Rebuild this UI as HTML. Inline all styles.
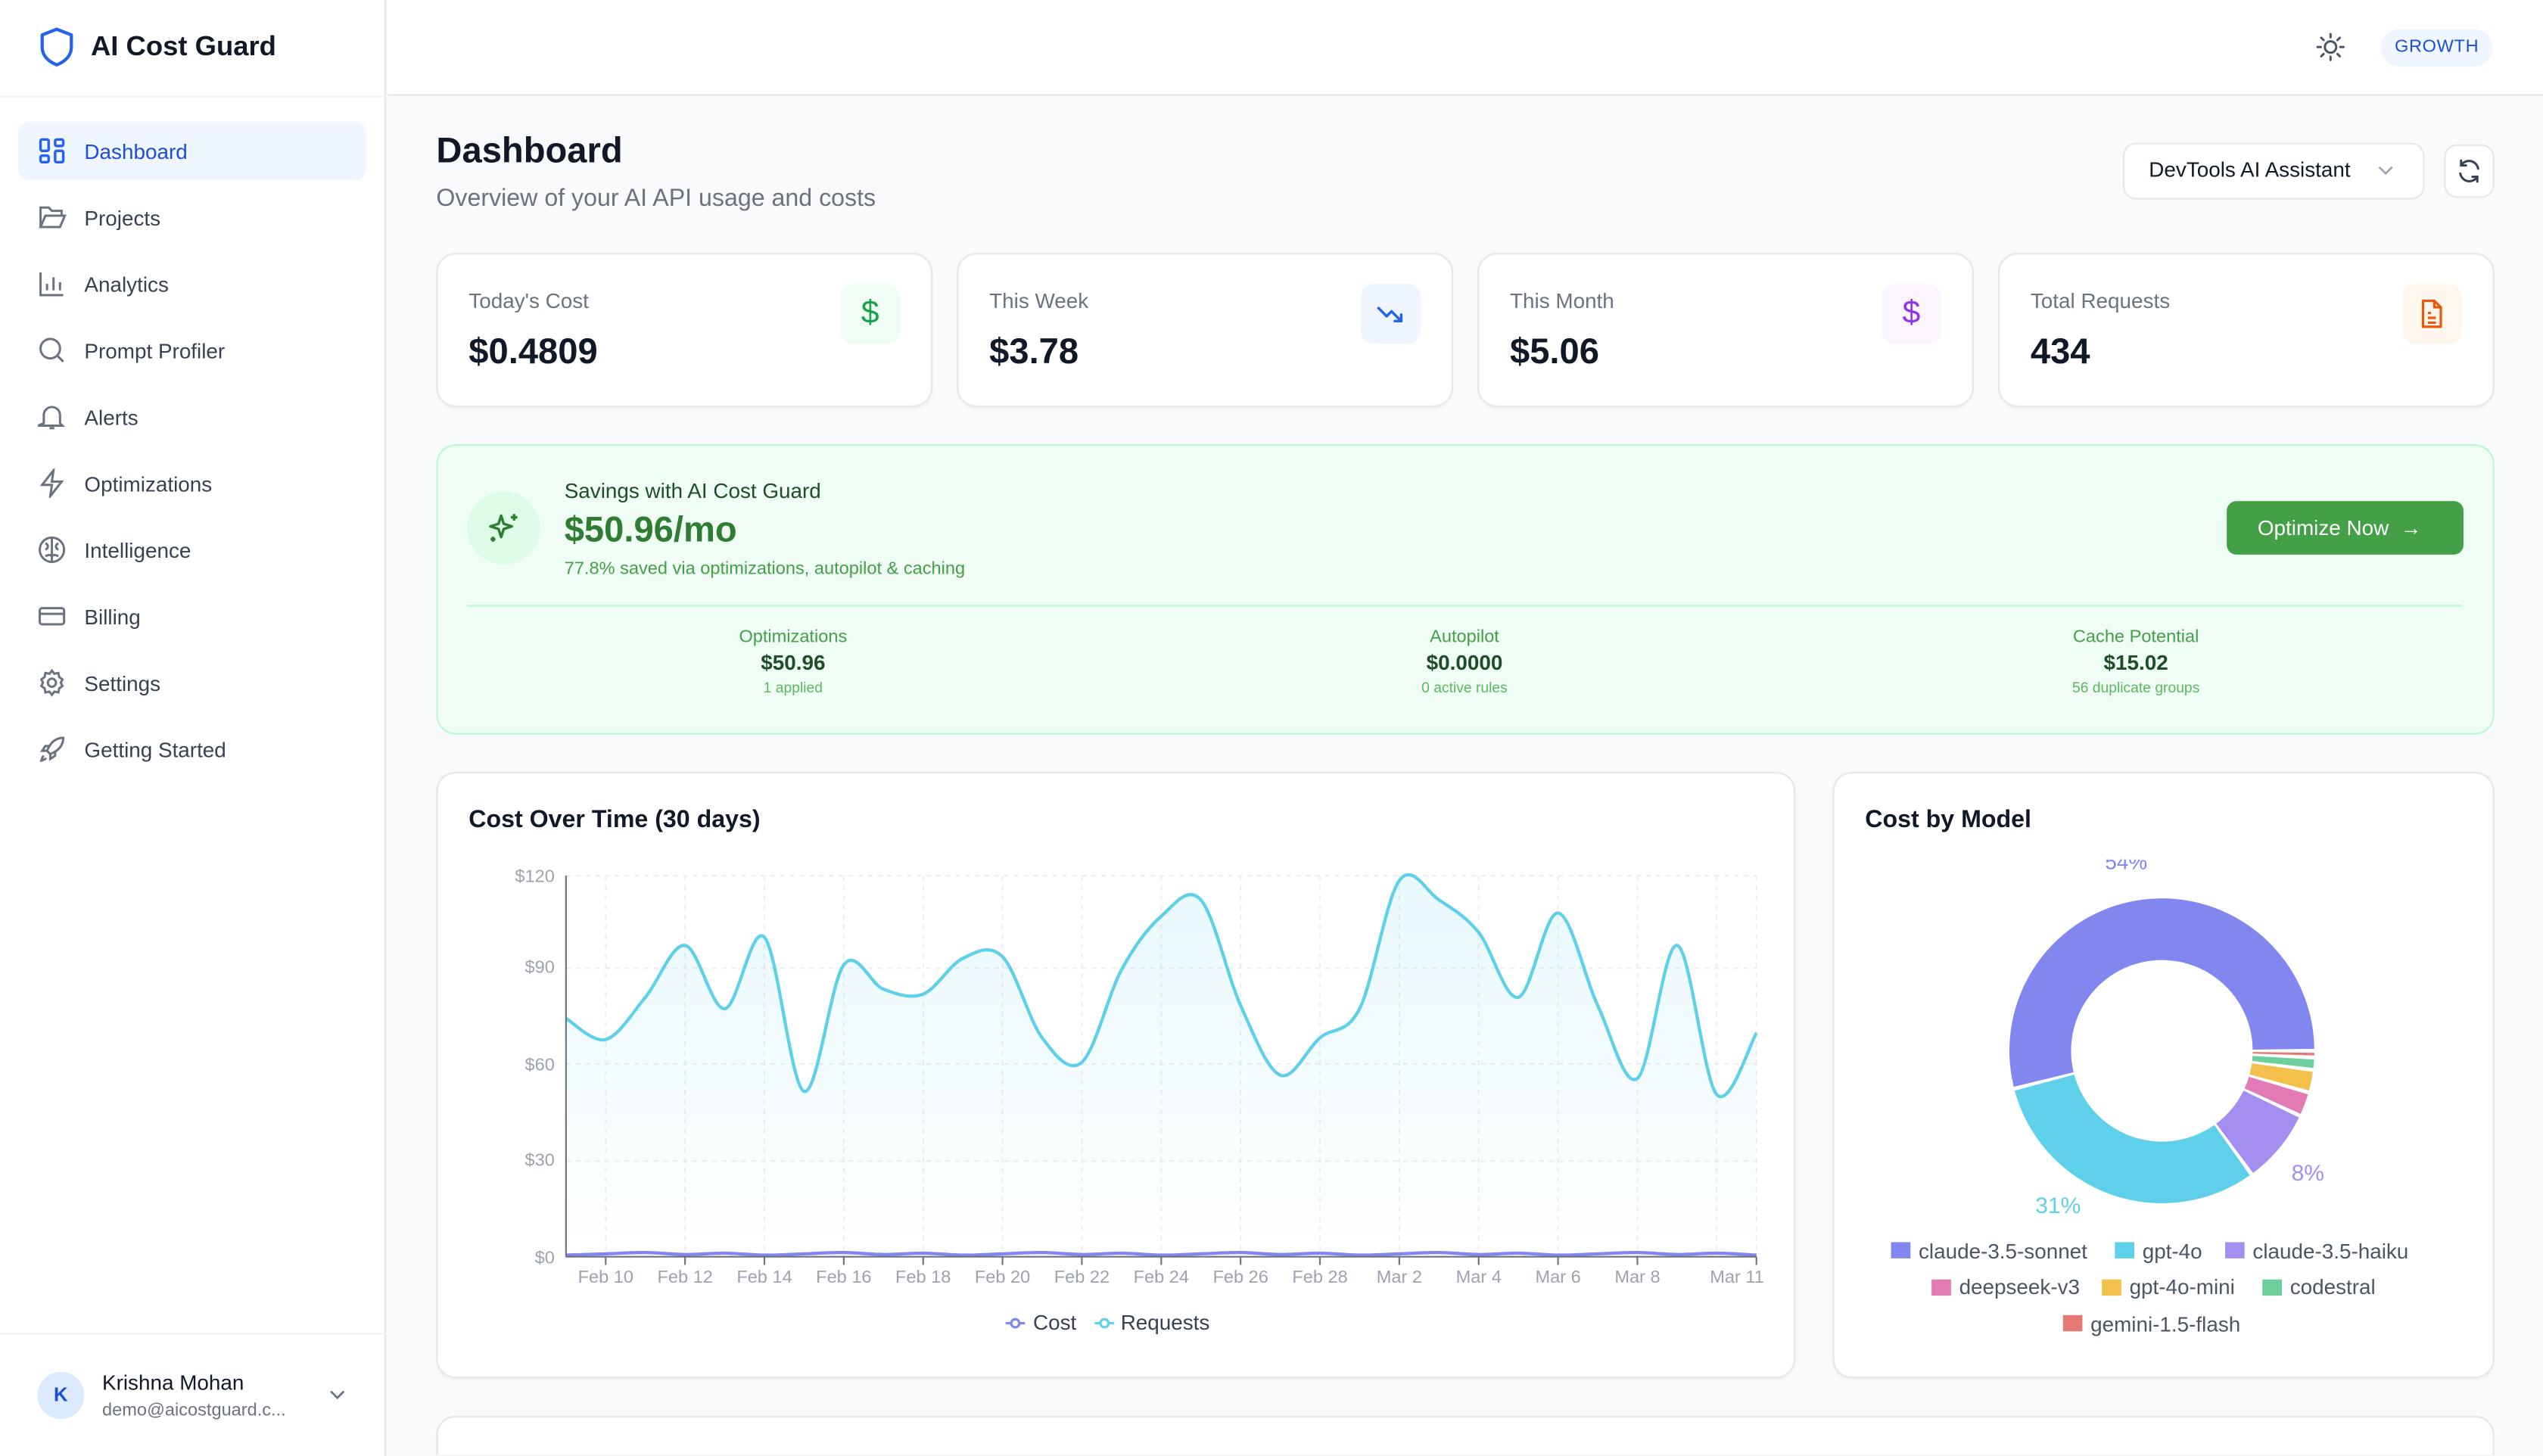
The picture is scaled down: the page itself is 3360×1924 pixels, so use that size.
<!DOCTYPE html>
<html><head><meta charset="utf-8">
<style>
*{box-sizing:border-box;margin:0;padding:0}
html,body{width:3360px;height:1924px;overflow:hidden;background:#f9fafb}
body{font-family:"Liberation Sans",sans-serif;color:#111827}
#r{position:absolute;left:0;top:0;width:1568px;height:898px;overflow:hidden;transform:scale(2.142857);transform-origin:0 0;background:#f9fafb}
.a{position:absolute}
.t{position:absolute;white-space:nowrap}
.card{position:absolute;background:#fff;border:1px solid #e5e7eb;border-radius:12px;box-shadow:0 1px 2px rgba(0,0,0,.04)}
.nav{position:absolute;left:52px;font-size:13px;color:#374151}
.ic{position:absolute;left:23px;width:18px;height:18px}
.lbl{font-size:13px;color:#6b7280}
.val{font-size:22px;font-weight:bold;color:#111827}
.ibox{position:absolute;width:37px;height:37px;border-radius:8px}
.col{position:absolute;text-align:center;width:200px}
</style></head><body>
<div id="r">
<!-- sidebar -->
<div class="a" style="left:0;top:0;width:238px;height:898px;background:#fff;border-right:1px solid #e5e7eb"></div>
<div class="a" style="left:0;top:59px;width:238px;height:1px;background:#f0f1f3"></div>
<svg class="a" style="left:24px;top:16px" width="22" height="26" viewBox="0 0 22 26"><path d="M11 2 L20 5.5 V13 C20 18.5 16 22 11 24 C6 22 2 18.5 2 13 V5.5 Z" fill="none" stroke="#2563eb" stroke-width="2" stroke-linejoin="round"/></svg>
<div class="t" style="left:56px;top:19px;font-size:17px;font-weight:bold;color:#111827">AI Cost Guard</div>
<div class="a" style="left:11px;top:75px;width:215px;height:36px;background:#eff6ff;border-radius:7px"></div>
<svg class="ic" style="top:84px" viewBox="0 0 18 18" fill="none" stroke="#2563eb" stroke-width="1.6"><rect x="2" y="2" width="5" height="7" rx="1"/><rect x="11" y="2" width="5" height="4" rx="1"/><rect x="11" y="9" width="5" height="7" rx="1"/><rect x="2" y="12" width="5" height="4" rx="1"/></svg>
<div class="nav" style="top:86px;color:#1d4ed8">Dashboard</div>
<svg class="ic" style="top:125px" viewBox="0 0 18 18" fill="none" stroke="#6b7280" stroke-width="1.4"><path d="M2 15V3h5l2 2h6v3"/><path d="M2 15l3-7h12l-3 7z"/></svg>
<div class="nav" style="top:127px">Projects</div>
<svg class="ic" style="top:166px" viewBox="0 0 18 18" fill="none" stroke="#6b7280" stroke-width="1.4"><path d="M2 2v14h14M6 13V9M10 13V5M14 13V8"/></svg>
<div class="nav" style="top:168px">Analytics</div>
<svg class="ic" style="top:207px" viewBox="0 0 18 18" fill="none" stroke="#6b7280" stroke-width="1.4"><circle cx="8" cy="8" r="6"/><path d="M12.5 12.5L16 16"/></svg>
<div class="nav" style="top:209px">Prompt Profiler</div>
<svg class="ic" style="top:248px" viewBox="0 0 18 18" fill="none" stroke="#6b7280" stroke-width="1.4"><path d="M4 13V8a5 5 0 0110 0v5l1.5 1.5h-15z"/><path d="M7.5 16h3"/></svg>
<div class="nav" style="top:250px">Alerts</div>
<svg class="ic" style="top:289px" viewBox="0 0 18 18" fill="none" stroke="#6b7280" stroke-width="1.4"><path d="M10 1L3 10h6l-1 7 7-9H9z"/></svg>
<div class="nav" style="top:291px">Optimizations</div>
<svg class="ic" style="top:330px" viewBox="0 0 18 18" fill="none" stroke="#6b7280" stroke-width="1.4"><circle cx="9" cy="9" r="7.5"/><path d="M9 1.5v15M5 5c2 1 2 3 0 4M13 5c-2 1-2 3 0 4M5 13c2-1 3-1 4 0M13 13c-2-1-3-1-4 0"/></svg>
<div class="nav" style="top:332px">Intelligence</div>
<svg class="ic" style="top:371px" viewBox="0 0 18 18" fill="none" stroke="#6b7280" stroke-width="1.4"><rect x="1.5" y="4" width="15" height="10" rx="1.5"/><path d="M1.5 7.5h15"/></svg>
<div class="nav" style="top:373px">Billing</div>
<svg class="ic" style="top:412px" viewBox="0 0 18 18" fill="none" stroke="#6b7280" stroke-width="1.4"><circle cx="9" cy="9" r="2.5"/><path d="M9 1.5l1.5 2 2.5-.5.5 2.5 2 1.5-1 2 1 2-2 1.5-.5 2.5-2.5-.5-1.5 2-1.5-2-2.5.5-.5-2.5-2-1.5 1-2-1-2 2-1.5.5-2.5 2.5.5z"/></svg>
<div class="nav" style="top:414px">Settings</div>
<svg class="ic" style="top:453px" viewBox="0 0 18 18" fill="none" stroke="#6b7280" stroke-width="1.4"><path d="M16 2c-5 0-8 3-10 8l2 2c5-2 8-5 8-10z"/><path d="M6 10l-3 0 2-3h3M8 12v3l3-2v-3M4 13c-1 1-1.5 3-1.5 3s2-.5 3-1.5"/></svg>
<div class="nav" style="top:455px">Getting Started</div>
<div class="a" style="left:0;top:822px;width:238px;height:1px;background:#f0f1f3"></div>
<div class="a" style="left:23px;top:846px;width:29px;height:29px;border-radius:50%;background:#dbeafe;color:#1d4ed8;font-size:12px;font-weight:bold;text-align:center;line-height:29px">K</div>
<div class="t" style="left:63px;top:845px;font-size:13px;color:#111827">Krishna Mohan</div>
<div class="t" style="left:63px;top:864px;font-size:11px;color:#6b7280">demo@aicostguard.c...</div>
<svg class="a" style="left:202px;top:855px" width="12" height="10" viewBox="0 0 12 10"><path d="M2 3l4 4 4-4" fill="none" stroke="#6b7280" stroke-width="1.3"/></svg>
<!-- header -->
<div class="a" style="left:239px;top:0;width:1329px;height:59px;background:#fff;border-bottom:1px solid #e5e7eb"></div>
<svg class="a" style="left:1427px;top:19px" width="20" height="20" viewBox="0 0 20 20" fill="none" stroke="#4b5563" stroke-width="1.4" stroke-linecap="round"><circle cx="10" cy="10" r="3.5"/><path d="M10 2v2M10 16v2M2 10h2M16 10h2M4.3 4.3l1.4 1.4M14.3 14.3l1.4 1.4M4.3 15.7l1.4-1.4M14.3 5.7l1.4-1.4"/></svg>
<div class="a" style="left:1468px;top:18px;width:69px;height:23px;border-radius:12px;background:#eff6ff;color:#1d4ed8;font-size:11px;text-align:center;line-height:23px;letter-spacing:.3px">GROWTH</div>
<!-- title -->
<div class="t" style="left:269px;top:80px;font-size:22px;font-weight:bold">Dashboard</div>
<div class="t" style="left:269px;top:114px;font-size:15px;color:#6b7280">Overview of your AI API usage and costs</div>
<div class="a" style="left:1309px;top:88px;width:186px;height:35px;background:#fff;border:1px solid #e5e7eb;border-radius:8px"></div>
<div class="t" style="left:1325px;top:97px;font-size:13px;color:#111827">DevTools AI Assistant</div>
<svg class="a" style="left:1465px;top:100px" width="12" height="10" viewBox="0 0 12 10"><path d="M2 3l4 4 4-4" fill="none" stroke="#9ca3af" stroke-width="1.2"/></svg>
<div class="a" style="left:1507px;top:89px;width:31px;height:33px;background:#fff;border:1px solid #e5e7eb;border-radius:8px"></div>
<svg class="a" style="left:1514px;top:97px" width="17" height="17" viewBox="0 0 17 17" fill="none" stroke="#374151" stroke-width="1.4" stroke-linecap="round"><path d="M14 7A5.7 5.7 0 003.5 5M3 10a5.7 5.7 0 0010.5 2"/><path d="M3.5 2v3h3M13.5 15v-3h-3"/></svg>
<!-- stat cards -->
<div class="card" style="left:269px;top:156px;width:306px;height:95px"></div>
<div class="t lbl" style="left:289px;top:178px">Today's Cost</div>
<div class="t val" style="left:289px;top:204px">$0.4809</div>
<div class="ibox" style="left:518px;top:175px;background:#f0fdf4;color:#16a34a;font-size:20px;text-align:center;line-height:37px">$</div>
<div class="card" style="left:590px;top:156px;width:306px;height:95px"></div>
<div class="t lbl" style="left:610px;top:178px">This Week</div>
<div class="t val" style="left:610px;top:204px">$3.78</div>
<div class="ibox" style="left:839px;top:175px;background:#eff6ff"></div>
<svg class="a" style="left:848px;top:185px" width="19" height="17" viewBox="0 0 19 17" fill="none" stroke="#2563eb" stroke-width="1.6" stroke-linecap="round" stroke-linejoin="round"><path d="M2 5l5 5 3-3 6 6M12 13h4v-4"/></svg>
<div class="card" style="left:911px;top:156px;width:306px;height:95px"></div>
<div class="t lbl" style="left:931px;top:178px">This Month</div>
<div class="t val" style="left:931px;top:204px">$5.06</div>
<div class="ibox" style="left:1160px;top:175px;background:#faf5ff;color:#9333ea;font-size:20px;text-align:center;line-height:37px">$</div>
<div class="card" style="left:1232px;top:156px;width:306px;height:95px"></div>
<div class="t lbl" style="left:1252px;top:178px">Total Requests</div>
<div class="t val" style="left:1252px;top:204px">434</div>
<div class="ibox" style="left:1481px;top:175px;background:#fff7ed"></div>
<svg class="a" style="left:1491px;top:184px" width="17" height="19" viewBox="0 0 17 19" fill="none" stroke="#ea580c" stroke-width="1.5" stroke-linejoin="round"><path d="M3 1.5h7l4 4v12H3z M10 1.5v4h4"/><path d="M6 9h2M6 12h5M6 15h5"/></svg>
<!-- savings -->
<div class="a" style="left:269px;top:274px;width:1269px;height:179px;background:#f0fdf4;border:1px solid #bbf7d0;border-radius:12px"></div>
<div class="a" style="left:288px;top:303px;width:45px;height:45px;border-radius:50%;background:#dcfce7"></div>
<svg class="a" style="left:299px;top:314px" width="24" height="24" viewBox="0 0 24 24" fill="none" stroke="#2e7d32" stroke-width="1.6" stroke-linejoin="round"><path d="M10 4l1.6 5 5 1.6-5 1.6-1.6 5-1.6-5-5-1.6 5-1.6z"/><path d="M18 3v4M16 5h4M5 17v3M3.5 18.5h3"/></svg>
<div class="t" style="left:348px;top:295px;font-size:13px;color:#1f4d27">Savings with AI Cost Guard</div>
<div class="t" style="left:348px;top:314px;font-size:22px;font-weight:bold;color:#2e7d32">$50.96/mo</div>
<div class="t" style="left:348px;top:345px;font-size:11px;color:#43a047">77.8% saved via optimizations, autopilot &amp; caching</div>
<div class="a" style="left:1373px;top:309px;width:146px;height:33px;background:#43a047;border-radius:6px;color:#fff;font-size:13px;line-height:33px;padding-left:19px">Optimize Now &nbsp;→</div>
<div class="a" style="left:288px;top:373px;width:1230px;height:1px;background:#bbf7d0"></div>
<div class="col" style="left:389px;top:387px"><div style="font-size:11px;color:#43a047">Optimizations</div><div style="font-size:13px;font-weight:bold;color:#1f4d27;margin-top:2px">$50.96</div><div style="font-size:9px;color:#5cb860;margin-top:3px">1 applied</div></div>
<div class="col" style="left:803px;top:387px"><div style="font-size:11px;color:#43a047">Autopilot</div><div style="font-size:13px;font-weight:bold;color:#1f4d27;margin-top:2px">$0.0000</div><div style="font-size:9px;color:#5cb860;margin-top:3px">0 active rules</div></div>
<div class="col" style="left:1217px;top:387px"><div style="font-size:11px;color:#43a047">Cache Potential</div><div style="font-size:13px;font-weight:bold;color:#1f4d27;margin-top:2px">$15.02</div><div style="font-size:9px;color:#5cb860;margin-top:3px">56 duplicate groups</div></div>
<!-- line chart -->
<div class="card" style="left:269px;top:476px;width:838px;height:374px"></div>
<div class="t" style="left:289px;top:497px;font-size:15px;font-weight:bold;color:#111827">Cost Over Time (30 days)</div>
<svg class="a" style="left:0;top:0" width="1568" height="898" id="lc">
<defs><linearGradient id="g" x1="0" y1="0" x2="0" y2="1"><stop offset="0" stop-color="#67d3ec" stop-opacity=".15"/><stop offset="1" stop-color="#67d3ec" stop-opacity="0"/></linearGradient></defs>
<g stroke="#eceef1" stroke-dasharray="3 3" stroke-width="1" id="grid"></g>
<path id="area" fill="url(#g)"/>
<path id="req" fill="none" stroke="#5fd0ea" stroke-width="2"/>
<path id="cost" fill="none" stroke="#8187ef" stroke-width="2"/>
<line x1="349" y1="540" x2="349" y2="775" stroke="#6b7280"/>
<line x1="349" y1="775" x2="1083" y2="775" stroke="#6b7280"/>
<g font-family="Liberation Sans" font-size="11" fill="#9ca3af" text-anchor="end">
<text x="342" y="544">$120</text><text x="342" y="600">$90</text><text x="342" y="660">$60</text><text x="342" y="719">$30</text><text x="342" y="779">$0</text></g>
<g font-family="Liberation Sans" font-size="11" fill="#9ca3af" text-anchor="middle" id="xl"></g>
<g font-family="Liberation Sans" font-size="13" fill="#374151">
<path d="M620 816h12" stroke="#8187ef" stroke-width="1.5"/><circle cx="626" cy="816" r="2.5" fill="#fff" stroke="#8187ef" stroke-width="1.5"/>
<text x="637" y="820">Cost</text>
<path d="M675 816h12" stroke="#5fd0ea" stroke-width="1.5"/><circle cx="681" cy="816" r="2.5" fill="#fff" stroke="#5fd0ea" stroke-width="1.5"/>
<text x="691" y="820">Requests</text></g>
</svg>
<!-- donut -->
<div class="card" style="left:1130px;top:476px;width:408px;height:374px"></div>
<div class="t" style="left:1150px;top:497px;font-size:15px;font-weight:bold;color:#111827">Cost by Model</div>
<svg class="a" style="left:0;top:0" width="1568" height="898">
<g id="pie"></g>
<text x="1311" y="536" font-family="Liberation Sans" font-size="13" fill="#8187ef" text-anchor="middle">54%</text>
<rect x="1140" y="520" width="300" height="10" fill="#fff"/>
<text x="1269" y="748" font-family="Liberation Sans" font-size="14" fill="#5fd0ea" text-anchor="middle">31%</text>
<text x="1423" y="728" font-family="Liberation Sans" font-size="14" fill="#a48ef0" text-anchor="middle">8%</text>
<g font-family="Liberation Sans" font-size="13" fill="#4b5563">
<rect x="1166" y="766" width="12" height="10" fill="#8187ef"/><text x="1183" y="776">claude-3.5-sonnet</text>
<rect x="1304" y="766" width="12" height="10" fill="#5fd0ea"/><text x="1321" y="776">gpt-4o</text>
<rect x="1372" y="766" width="12" height="10" fill="#a48ef0"/><text x="1389" y="776">claude-3.5-haiku</text>
<rect x="1191" y="789" width="12" height="10" fill="#e27bb4"/><text x="1208" y="798">deepseek-v3</text>
<rect x="1296" y="789" width="12" height="10" fill="#f4c04c"/><text x="1313" y="798">gpt-4o-mini</text>
<rect x="1395" y="789" width="12" height="10" fill="#6ccf9c"/><text x="1412" y="798">codestral</text>
<rect x="1272" y="811" width="12" height="10" fill="#e57a74"/><text x="1289" y="821">gemini-1.5-flash</text>
</g></svg>
<div class="card" style="left:269px;top:873px;width:1269px;height:24px;border-bottom:none;border-radius:12px 12px 0 0"></div>
</div>
<script>
(function(){
var ys=[628,641,615,583,622,578,673,595,610,613,591,590,640,655,598,565,555,620,663,640,622,543,555,575,615,563,620,665,583,675,637];
var P=ys.map(function(y,i){return [349+i*24.467,y];});
function smooth(p){var d="M"+p[0][0]+","+p[0][1];for(var i=0;i<p.length-1;i++){var p0=p[i-1]||p[i],p1=p[i],p2=p[i+1],p3=p[i+2]||p2;var t=6;d+=" C"+(p1[0]+(p2[0]-p0[0])/t)+","+(p1[1]+(p2[1]-p0[1])/t)+" "+(p2[0]-(p3[0]-p1[0])/t)+","+(p2[1]-(p3[1]-p1[1])/t)+" "+p2[0]+","+p2[1];}return d;}
var d=smooth(P);
document.getElementById('req').setAttribute('d',d);
document.getElementById('area').setAttribute('d',d+" L1083,775 L349,775 Z");
var cs=ys.map(function(y,i){return [349+i*24.467,774-((i*7)%5)*0.4];});
document.getElementById('cost').setAttribute('d',smooth(cs));
var g=document.getElementById('grid'),s="";
[540,597,656,716].forEach(function(y){s+='<line x1="349" x2="1083" y1="'+y+'" y2="'+y+'"/>';});
for(var i=1;i<31;i+=2){var x=349+i*24.467;s+='<line x1="'+x+'" x2="'+x+'" y1="540" y2="775"/>';}
s+='<line x1="1083" x2="1083" y1="540" y2="775"/>';
g.innerHTML=s;
var lab=["Feb 10","Feb 12","Feb 14","Feb 16","Feb 18","Feb 20","Feb 22","Feb 24","Feb 26","Feb 28","Mar 2","Mar 4","Mar 6","Mar 8"],xs="";
lab.forEach(function(l,k){var x=349+(1+2*k)*24.467;xs+='<text x="'+x+'" y="791">'+l+'</text><line x1="'+x+'" x2="'+x+'" y1="775" y2="780" stroke="#6b7280"/>';});
xs+='<text x="1071" y="791">Mar 11</text><line x1="1083" x2="1083" y1="775" y2="780" stroke="#6b7280"/>';
document.getElementById('xl').innerHTML=xs;
var cx=1333,cy=648,R=94,r=56;
var parts=[[54,"#8187ef"],[31,"#5fd0ea"],[8,"#a48ef0"],[2.6,"#e27bb4"],[2.4,"#f4c04c"],[1.3,"#6ccf9c"],[0.7,"#e57a74"]];
var pad=1.5,a=0,ps="";
function pt(rad,deg){var t=deg*Math.PI/180;return (cx+rad*Math.cos(t)).toFixed(2)+","+(cy-rad*Math.sin(t)).toFixed(2);}
parts.forEach(function(p){var sweep=p[0]*3.6;var a0=a+pad/2,a1=a+sweep-pad/2;if(a1<a0)a1=a0+0.3;var lg=(a1-a0)>180?1:0;
ps+='<path fill="'+p[1]+'" d="M'+pt(R,a0)+' A'+R+','+R+' 0 '+lg+' 0 '+pt(R,a1)+' L'+pt(r,a1)+' A'+r+','+r+' 0 '+lg+' 1 '+pt(r,a0)+' Z"/>';a+=sweep;});
document.getElementById('pie').innerHTML=ps;
})();
</script>
</body></html>
